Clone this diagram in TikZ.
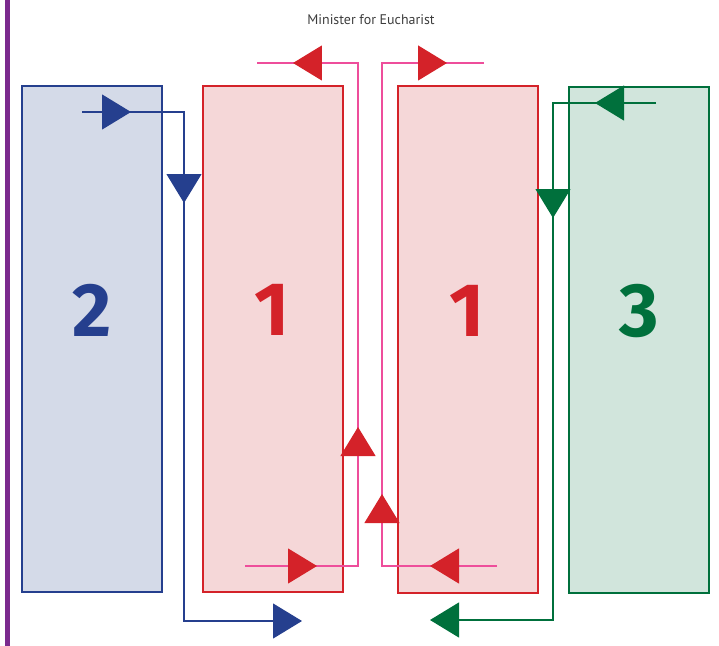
\documentclass[tikz,border=0pt]{standalone}
\usepackage{fontspec}
\setmainfont{PT Sans}
\newfontfamily\digitfont{Fira Sans}
\usepackage{tikz}
\usetikzlibrary{arrows.meta,%
                decorations.markings,positioning}

\definecolor{bluetwo}{HTML}{253F8E}
\definecolor{bluefill}{HTML}{D4DAE8}
\definecolor{redone}{HTML}{D42229}
\definecolor{redfill}{HTML}{F5D7D8}
\definecolor{pinkline}{HTML}{EE4E9B}
\definecolor{greenthree}{HTML}{00703C}
\definecolor{greenfill}{HTML}{D1E5DC}
\definecolor{purplebar}{HTML}{7B2A8E}
\definecolor{titlegray}{HTML}{3C3C3C}

\tikzset{
  box/.style={draw, line width=2bp, inner sep=0pt, minimum width=140bp, minimum height=506bp},
  digit/.style={font=\digitfont\fontsize{76}{76}\selectfont\bfseries, inner sep=0pt},
  flow/.style={line width=1.2bp},
  midtri/.style 2 args={postaction={decorate, decoration={markings,
      mark=at position #1 with {\arrow{Triangle[width=35bp,length=29bp,color=#2]}}}}}
}

\begin{document}
\begin{tikzpicture}[x=1bp,y=-1bp]
\useasboundingbox (0,0) rectangle (719,646);
\fill[purplebar] (5,0) rectangle (10,646);
\node[font=\fontsize{14}{14}\selectfont, text=titlegray] (title) at (371,20) {Minister for Eucharist};

\node[box, draw=bluetwo, fill=bluefill] (box2) at (92,339) {};
\node[box, draw=redone, fill=redfill] (box1a) at (272.5,339) {};
\node[box, draw=redone, fill=redfill] (box1b) at (467.5,339.5) {};
\node[box, draw=greenthree, fill=greenfill] (box3) at (639,340) {};
\node[digit, text=bluetwo] (num2) at ([yshift=29bp]box2.center) {2};
\node[digit, text=redone] (num1a) at ([yshift=29bp]box1a.center) {1};
\node[digit, text=redone] (num1b) at ([yshift=29bp]box1b.center) {1};
\node[digit, text=greenthree] (num3) at ([yshift=29bp]box3.center) {3};

% blue way
\coordinate (b0) at (82,112);
\coordinate (b1) at (184,112);
\coordinate (b2) at (184,621);
\coordinate (b3) at (302,621);
\draw[flow, bluetwo, midtri={49bp}{bluetwo}, midtri={193bp}{bluetwo},
      -{Triangle[width=35bp,length=29bp]}] (b0) -- (b1) -- (b2) -- (b3);

% red ways
\coordinate (r0) at (245,566);
\coordinate (r1) at (358,566);
\coordinate (r2) at (358,63);
\coordinate (r3) at (257,63);
\draw[flow, pinkline, midtri={72bp}{redone}, midtri={252bp}{redone}, midtri={681bp}{redone}]
      (r0) -- (r1) -- (r2) -- (r3);
\coordinate (s0) at (497,566);
\coordinate (s1) at (382,566);
\coordinate (s2) at (382,63);
\coordinate (s3) at (484,63);
\draw[flow, pinkline, midtri={67bp}{redone}, midtri={187bp}{redone}, midtri={683bp}{redone}]
      (s0) -- (s1) -- (s2) -- (s3);

% green way
\coordinate (g0) at (656,103);
\coordinate (g1) at (553,103);
\coordinate (g2) at (553,620);
\coordinate (g3) at (430,620);
\draw[flow, greenthree, midtri={61bp}{greenthree}, midtri={218bp}{greenthree},
      -{Triangle[width=35bp,length=29bp]}] (g0) -- (g1) -- (g2) -- (g3);
\end{tikzpicture}
\end{document}
